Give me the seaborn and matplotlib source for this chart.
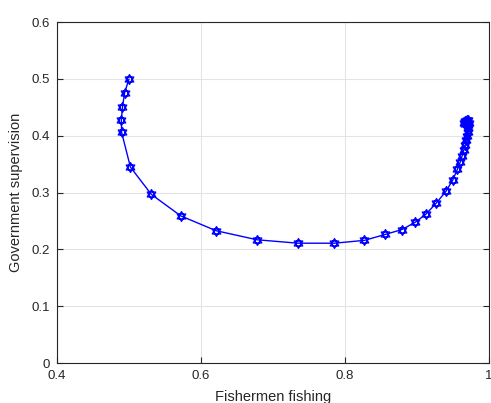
import numpy as np
import pandas as pd
import matplotlib
matplotlib.use("Agg")
import matplotlib.pyplot as plt
from matplotlib.path import Path
import seaborn as sns

# evolution trajectory
fishermen = [0.500, 0.494, 0.491, 0.4894, 0.4898, 0.502, 0.531, 0.572, 0.621, 0.678,
             0.735, 0.785, 0.827, 0.856, 0.879, 0.897, 0.912, 0.927, 0.940, 0.9496,
             0.956, 0.960, 0.9625, 0.965, 0.967, 0.968, 0.9694, 0.9704, 0.971, 0.971,
             0.972, 0.971, 0.969, 0.966, 0.965, 0.967, 0.969, 0.970, 0.968, 0.967, 0.968]
government = [0.500, 0.476, 0.451, 0.428, 0.406, 0.345, 0.297, 0.259, 0.233, 0.217,
              0.211, 0.211, 0.216, 0.2265, 0.235, 0.2475, 0.2616, 0.282, 0.302, 0.322,
              0.341, 0.354, 0.364, 0.375, 0.384, 0.392, 0.400, 0.406, 0.414, 0.419,
              0.423, 0.427, 0.428, 0.426, 0.423, 0.421, 0.422, 0.424, 0.426, 0.424, 0.423]
xticks = [0.4, 0.6, 0.8, 1.0]
xticklabels = ["0.4", "0.6", "0.8", "1"]
yticks = [0, 0.1, 0.2, 0.3, 0.4, 0.5, 0.6]
yticklabels = ["0", "0.1", "0.2", "0.3", "0.4", "0.5", "0.6"]

df = pd.DataFrame({"Fishermen fishing": fishermen, "Government supervision": government})

# hexagram marker = two overlapping triangles
def tri(start):
    a = np.deg2rad(start + np.array([0, 120, 240]))
    return list(zip(np.cos(a), np.sin(a)))
up, down = tri(90), tri(270)
verts = up + [up[0]] + down + [down[0]]
codes = [Path.MOVETO, Path.LINETO, Path.LINETO, Path.CLOSEPOLY] * 2
hexagram = Path(verts, codes)

sns.set_style("white")
plt.rcParams['font.family'] = ['Liberation Sans', 'DejaVu Sans']

fig = plt.figure(figsize=(4.91, 4.03), dpi=100)
ax = fig.add_axes([0.116, 0.099, 0.880, 0.846])

sns.lineplot(data=df, x="Fishermen fishing", y="Government supervision", sort=False,
             estimator=None, color="blue", lw=1.0, marker=hexagram, markersize=7,
             markerfacecolor="none", markeredgecolor="blue", markeredgewidth=1.0, ax=ax)

ax.set_xlim(0.4, 1.0)
ax.set_ylim(0, 0.6)
ax.set_xticks(xticks)
ax.set_xticklabels(xticklabels)
ax.set_yticks(yticks)
ax.set_yticklabels(yticklabels)
ax.grid(True, color="#e3e3e3", lw=0.8)
ax.set_axisbelow(True)
for s in ax.spines.values():
    s.set_color("#262626")
    s.set_linewidth(0.8)
ax.tick_params(direction="in", length=4, width=0.8, colors="#262626", labelsize=9.5,
               top=False, right=True, left=True, bottom=True, pad=5)
ax.set_xlabel("Fishermen fishing", fontsize=10.5, color="#262626", labelpad=6)
ax.set_ylabel("Government supervision", fontsize=10.5, color="#262626", labelpad=6)

fig.savefig("out.png", dpi=100)
